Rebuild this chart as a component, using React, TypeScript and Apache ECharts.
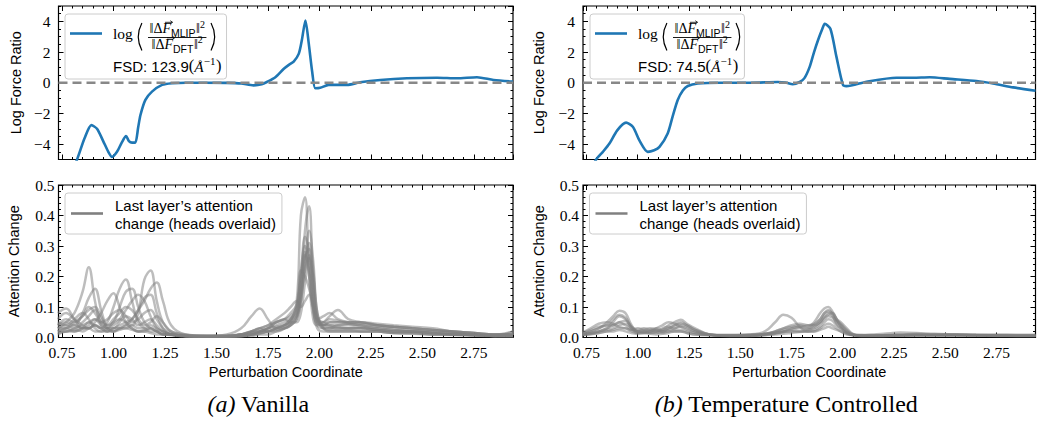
import React, { useEffect, useRef } from "react";
import * as echarts from "echarts";

// ---------------- data ----------------
const X_MIN = 0.733;
const X_MAX = 2.94;
const X_MAJOR = 0.25;
const X_MINOR = 0.05;
const X_NAME = "Perturbation Coordinate";
const Y_TOP_NAME = "Log Force Ratio";
const Y_BOTTOM_NAME = "Attention Change";
const ZERO_LEVEL = 0;

const VANILLA_X = [0.78, 0.823, 0.86, 0.893, 0.92, 0.95, 0.975, 0.993, 1.017, 1.04, 1.061, 1.075, 1.09, 1.106, 1.12, 1.131, 1.155, 1.187, 1.236, 1.285, 1.35, 1.45, 1.55, 1.62, 1.68, 1.72, 1.745, 1.786, 1.826, 1.85, 1.875, 1.9, 1.915, 1.932, 1.948, 1.965, 1.98, 2.004, 2.045, 2.134, 2.198, 2.296, 2.425, 2.571, 2.668, 2.765, 2.846, 2.94];
const VANILLA_LOG_RATIO = [-6.3, -5.0, -3.6, -2.76, -3.0, -3.8, -4.5, -4.83, -4.5, -3.9, -3.48, -3.8, -3.9, -3.9, -2.9, -2.1, -1.12, -0.58, -0.14, -0.03, 0.0, 0.0, -0.01, -0.05, -0.17, -0.1, 0.05, 0.36, 0.9, 1.15, 1.38, 1.9, 2.8, 4.06, 2.58, 0.7, -0.36, -0.33, -0.14, -0.14, 0.03, 0.18, 0.29, 0.33, 0.29, 0.36, 0.18, 0.08];

const TEMP_X = [0.76, 0.797, 0.83, 0.862, 0.9, 0.943, 0.976, 1.01, 1.049, 1.08, 1.106, 1.146, 1.17, 1.195, 1.22, 1.244, 1.293, 1.4, 1.55, 1.683, 1.72, 1.756, 1.79, 1.813, 1.839, 1.86, 1.88, 1.9, 1.912, 1.94, 1.969, 2.001, 2.018, 2.116, 2.262, 2.343, 2.424, 2.522, 2.652, 2.733, 2.831, 2.94];
const TEMP_LOG_RATIO = [-6.0, -5.0, -4.5, -3.96, -3.1, -2.6, -2.87, -3.8, -4.5, -4.4, -4.18, -3.3, -2.2, -1.12, -0.5, -0.21, -0.05, 0.0, 0.0, 0.05, 0.02, -0.1, 0.05, 0.3, 1.05, 2.0, 2.8, 3.5, 3.84, 3.5, 1.7, -0.14, -0.22, 0.07, 0.33, 0.33, 0.36, 0.25, 0.11, -0.05, -0.3, -0.52];

const VANILLA_FSD = "123.9";
const TEMP_FSD = "74.5";

const HEAD_X = [0.73, 0.77, 0.81, 0.85, 0.88, 0.91, 0.94, 0.97, 1.0, 1.03, 1.06, 1.09, 1.12, 1.15, 1.18, 1.21, 1.24, 1.28, 1.35, 1.45, 1.55, 1.62, 1.67, 1.71, 1.75, 1.79, 1.83, 1.86, 1.89, 1.91, 1.93, 1.95, 1.97, 1.99, 2.02, 2.05, 2.09, 2.14, 2.2, 2.28, 2.36, 2.45, 2.55, 2.65, 2.75, 2.85, 2.94];

const VANILLA_HEADS = [
  [0.03, 0.05, 0.08, 0.15, 0.23, 0.12, 0.04, 0.03, 0.05, 0.06, 0.05, 0.04, 0.08, 0.19, 0.22, 0.12, 0.05, 0.02, 0.01, 0.005, 0.005, 0.01, 0.02, 0.03, 0.02, 0.02, 0.03, 0.05, 0.12, 0.4, 0.46, 0.2, 0.06, 0.04, 0.05, 0.07, 0.09, 0.06, 0.05, 0.04, 0.035, 0.03, 0.025, 0.02, 0.015, 0.01, 0.02],
  [0.02, 0.03, 0.02, 0.03, 0.05, 0.04, 0.03, 0.05, 0.1, 0.16, 0.19, 0.12, 0.05, 0.03, 0.02, 0.02, 0.01, 0.01, 0.005, 0.005, 0.01, 0.03, 0.07, 0.095, 0.06, 0.03, 0.03, 0.04, 0.06, 0.15, 0.35, 0.43, 0.18, 0.05, 0.04, 0.05, 0.05, 0.05, 0.05, 0.045, 0.04, 0.035, 0.03, 0.02, 0.015, 0.01, 0.01],
  [0.04, 0.05, 0.04, 0.08, 0.13, 0.16, 0.09, 0.03, 0.02, 0.03, 0.04, 0.06, 0.09, 0.12, 0.16, 0.18, 0.12, 0.04, 0.01, 0.005, 0.005, 0.01, 0.02, 0.02, 0.02, 0.03, 0.04, 0.05, 0.07, 0.12, 0.25, 0.35, 0.25, 0.08, 0.04, 0.04, 0.04, 0.045, 0.04, 0.035, 0.03, 0.025, 0.02, 0.015, 0.01, 0.008, 0.01],
  [0.08, 0.095, 0.06, 0.03, 0.03, 0.05, 0.08, 0.12, 0.145, 0.1, 0.05, 0.03, 0.02, 0.02, 0.015, 0.01, 0.01, 0.008, 0.005, 0.005, 0.005, 0.01, 0.02, 0.03, 0.04, 0.05, 0.06, 0.08, 0.11, 0.22, 0.3, 0.25, 0.1, 0.04, 0.03, 0.03, 0.03, 0.03, 0.03, 0.025, 0.02, 0.02, 0.015, 0.01, 0.01, 0.008, 0.01],
  [0.02, 0.03, 0.05, 0.07, 0.09, 0.1, 0.07, 0.04, 0.05, 0.1, 0.15, 0.16, 0.1, 0.05, 0.03, 0.02, 0.01, 0.01, 0.005, 0.005, 0.005, 0.01, 0.015, 0.02, 0.03, 0.04, 0.05, 0.06, 0.08, 0.14, 0.26, 0.29, 0.15, 0.06, 0.05, 0.04, 0.035, 0.03, 0.03, 0.025, 0.02, 0.02, 0.015, 0.01, 0.008, 0.005, 0.005],
  [0.05, 0.04, 0.06, 0.08, 0.06, 0.03, 0.02, 0.03, 0.04, 0.06, 0.09, 0.12, 0.14, 0.12, 0.07, 0.03, 0.02, 0.01, 0.005, 0.005, 0.005, 0.01, 0.01, 0.02, 0.03, 0.05, 0.06, 0.07, 0.1, 0.2, 0.27, 0.22, 0.09, 0.03, 0.02, 0.02, 0.02, 0.02, 0.02, 0.02, 0.015, 0.015, 0.01, 0.01, 0.008, 0.005, 0.005],
  [0.06, 0.08, 0.06, 0.04, 0.03, 0.04, 0.03, 0.02, 0.03, 0.04, 0.05, 0.06, 0.09, 0.13, 0.14, 0.08, 0.03, 0.01, 0.005, 0.005, 0.005, 0.01, 0.02, 0.03, 0.04, 0.06, 0.08, 0.1, 0.12, 0.1, 0.12, 0.14, 0.1, 0.06, 0.07, 0.08, 0.06, 0.05, 0.045, 0.04, 0.035, 0.03, 0.025, 0.02, 0.015, 0.01, 0.01],
  [0.03, 0.04, 0.03, 0.05, 0.07, 0.09, 0.06, 0.03, 0.03, 0.05, 0.07, 0.06, 0.04, 0.05, 0.06, 0.04, 0.02, 0.01, 0.005, 0.003, 0.003, 0.005, 0.01, 0.015, 0.02, 0.03, 0.04, 0.06, 0.09, 0.2, 0.33, 0.28, 0.12, 0.05, 0.04, 0.05, 0.05, 0.045, 0.04, 0.03, 0.025, 0.02, 0.02, 0.015, 0.01, 0.008, 0.008],
  [0.02, 0.02, 0.03, 0.04, 0.05, 0.06, 0.05, 0.06, 0.08, 0.09, 0.07, 0.05, 0.06, 0.08, 0.09, 0.06, 0.03, 0.015, 0.005, 0.003, 0.003, 0.005, 0.01, 0.02, 0.03, 0.05, 0.06, 0.05, 0.05, 0.08, 0.18, 0.26, 0.2, 0.07, 0.03, 0.03, 0.04, 0.04, 0.035, 0.03, 0.025, 0.02, 0.015, 0.01, 0.008, 0.005, 0.005],
  [0.01, 0.02, 0.02, 0.03, 0.03, 0.02, 0.02, 0.02, 0.03, 0.03, 0.04, 0.03, 0.02, 0.02, 0.03, 0.02, 0.01, 0.01, 0.005, 0.003, 0.003, 0.005, 0.005, 0.01, 0.01, 0.02, 0.03, 0.04, 0.06, 0.12, 0.24, 0.31, 0.22, 0.08, 0.03, 0.02, 0.02, 0.02, 0.02, 0.02, 0.015, 0.015, 0.01, 0.01, 0.008, 0.005, 0.005],
  [0.04, 0.06, 0.05, 0.07, 0.1, 0.08, 0.05, 0.04, 0.06, 0.08, 0.1, 0.09, 0.06, 0.04, 0.05, 0.07, 0.05, 0.02, 0.008, 0.005, 0.005, 0.008, 0.015, 0.02, 0.03, 0.035, 0.04, 0.05, 0.08, 0.17, 0.28, 0.2, 0.09, 0.05, 0.05, 0.06, 0.055, 0.05, 0.05, 0.04, 0.035, 0.03, 0.025, 0.02, 0.015, 0.01, 0.01],
  [0.03, 0.03, 0.04, 0.03, 0.04, 0.06, 0.04, 0.03, 0.02, 0.03, 0.03, 0.04, 0.03, 0.03, 0.04, 0.03, 0.02, 0.01, 0.005, 0.003, 0.003, 0.005, 0.01, 0.015, 0.02, 0.03, 0.04, 0.06, 0.1, 0.22, 0.2, 0.16, 0.11, 0.06, 0.04, 0.035, 0.03, 0.03, 0.03, 0.025, 0.02, 0.02, 0.015, 0.01, 0.008, 0.005, 0.02],
  [0.015, 0.02, 0.025, 0.02, 0.03, 0.04, 0.03, 0.02, 0.02, 0.025, 0.03, 0.025, 0.02, 0.025, 0.03, 0.02, 0.012, 0.008, 0.004, 0.003, 0.003, 0.004, 0.008, 0.012, 0.02, 0.025, 0.03, 0.04, 0.07, 0.14, 0.22, 0.27, 0.16, 0.06, 0.03, 0.025, 0.025, 0.025, 0.02, 0.02, 0.015, 0.012, 0.01, 0.008, 0.006, 0.005, 0.005],
];

const TEMP_HEADS = [
  [0.01, 0.02, 0.03, 0.05, 0.07, 0.088, 0.08, 0.04, 0.02, 0.02, 0.015, 0.015, 0.02, 0.02, 0.02, 0.02, 0.015, 0.01, 0.008, 0.008, 0.01, 0.02, 0.05, 0.075, 0.065, 0.035, 0.02, 0.02, 0.03, 0.04, 0.045, 0.04, 0.03, 0.02, 0.01, 0.008, 0.006, 0.006, 0.006, 0.007, 0.008, 0.008, 0.008, 0.007, 0.006, 0.006, 0.006],
  [0.01, 0.015, 0.02, 0.03, 0.04, 0.05, 0.04, 0.025, 0.02, 0.02, 0.02, 0.02, 0.025, 0.04, 0.05, 0.058, 0.045, 0.03, 0.01, 0.006, 0.008, 0.012, 0.02, 0.03, 0.035, 0.04, 0.035, 0.05, 0.08, 0.095, 0.1, 0.085, 0.06, 0.035, 0.015, 0.008, 0.006, 0.006, 0.007, 0.008, 0.01, 0.01, 0.01, 0.008, 0.007, 0.006, 0.006],
  [0.015, 0.03, 0.045, 0.05, 0.045, 0.035, 0.03, 0.025, 0.03, 0.025, 0.02, 0.03, 0.04, 0.05, 0.045, 0.035, 0.025, 0.015, 0.008, 0.006, 0.007, 0.01, 0.02, 0.03, 0.04, 0.045, 0.04, 0.04, 0.05, 0.065, 0.075, 0.08, 0.06, 0.05, 0.03, 0.012, 0.008, 0.007, 0.008, 0.01, 0.012, 0.01, 0.01, 0.008, 0.007, 0.006, 0.006],
  [0.008, 0.012, 0.02, 0.03, 0.05, 0.07, 0.06, 0.03, 0.015, 0.015, 0.02, 0.025, 0.02, 0.025, 0.03, 0.035, 0.03, 0.02, 0.008, 0.005, 0.006, 0.01, 0.015, 0.02, 0.03, 0.035, 0.03, 0.04, 0.06, 0.08, 0.09, 0.075, 0.05, 0.04, 0.02, 0.008, 0.005, 0.005, 0.005, 0.006, 0.007, 0.007, 0.008, 0.008, 0.007, 0.006, 0.006],
  [0.012, 0.02, 0.03, 0.04, 0.04, 0.05, 0.055, 0.035, 0.025, 0.03, 0.025, 0.02, 0.03, 0.035, 0.03, 0.04, 0.035, 0.02, 0.01, 0.006, 0.006, 0.01, 0.015, 0.02, 0.025, 0.03, 0.028, 0.03, 0.045, 0.06, 0.07, 0.065, 0.055, 0.045, 0.025, 0.01, 0.006, 0.006, 0.006, 0.006, 0.008, 0.008, 0.008, 0.007, 0.006, 0.006, 0.006],
  [0.01, 0.015, 0.02, 0.025, 0.03, 0.04, 0.045, 0.03, 0.02, 0.018, 0.025, 0.03, 0.025, 0.03, 0.04, 0.045, 0.04, 0.025, 0.01, 0.006, 0.006, 0.008, 0.012, 0.018, 0.022, 0.02, 0.025, 0.035, 0.05, 0.07, 0.08, 0.07, 0.045, 0.03, 0.015, 0.008, 0.006, 0.006, 0.006, 0.007, 0.007, 0.007, 0.007, 0.006, 0.006, 0.005, 0.005],
  [0.008, 0.01, 0.015, 0.02, 0.025, 0.03, 0.03, 0.02, 0.015, 0.015, 0.015, 0.018, 0.015, 0.02, 0.025, 0.025, 0.02, 0.015, 0.008, 0.005, 0.005, 0.007, 0.01, 0.012, 0.015, 0.018, 0.02, 0.025, 0.035, 0.05, 0.06, 0.055, 0.04, 0.03, 0.015, 0.007, 0.005, 0.005, 0.005, 0.006, 0.006, 0.006, 0.006, 0.006, 0.005, 0.005, 0.005],
  [0.015, 0.025, 0.035, 0.04, 0.06, 0.075, 0.065, 0.035, 0.02, 0.025, 0.03, 0.025, 0.02, 0.03, 0.04, 0.05, 0.04, 0.025, 0.01, 0.006, 0.007, 0.012, 0.018, 0.025, 0.03, 0.035, 0.04, 0.045, 0.06, 0.08, 0.085, 0.08, 0.06, 0.04, 0.02, 0.01, 0.006, 0.006, 0.007, 0.008, 0.009, 0.008, 0.008, 0.007, 0.006, 0.006, 0.006],
  [0.01, 0.012, 0.015, 0.02, 0.02, 0.025, 0.02, 0.015, 0.012, 0.015, 0.012, 0.01, 0.012, 0.015, 0.02, 0.02, 0.015, 0.01, 0.008, 0.008, 0.01, 0.012, 0.015, 0.018, 0.02, 0.02, 0.02, 0.02, 0.025, 0.03, 0.035, 0.03, 0.025, 0.02, 0.012, 0.008, 0.008, 0.01, 0.012, 0.016, 0.015, 0.012, 0.01, 0.01, 0.01, 0.009, 0.009],
];

const ATTN_LEGEND = ["Last layer\u2019s attention", "change (heads overlaid)"];
const CAPTIONS: [string, string][] = [["(a)", " Vanilla"], ["(b)", " Temperature Controlled"]];

// ---------------- style ----------------
const SERIF = "Liberation Serif, DejaVu Serif, serif";
const SANS = "Liberation Sans, Arial, sans-serif";
const BLUE = "#1f77b4";
const GRAY = "#808080";

const GRIDS = [
  { left: 58.5, top: 6, width: 454.5, height: 153.5 },
  { left: 58.5, top: 185, width: 454.5, height: 152.5 },
  { left: 583, top: 6, width: 452.5, height: 153.5 },
  { left: 583, top: 185, width: 452.5, height: 152.5 },
];

// ---------------- text helpers ----------------
let measureCtx: CanvasRenderingContext2D | null = null;
function textWidth(text: string, font: string) {
  if (!measureCtx) measureCtx = document.createElement("canvas").getContext("2d");
  measureCtx!.font = font;
  return measureCtx!.measureText(text).width;
}
type Piece = { t: string; size: number; fam: string; italic?: boolean; dy?: number; dx?: number; arrow?: boolean };
const fontOf = (p: Piece) => `${p.italic ? "italic " : ""}${p.size}px ${p.fam}`;
function rowWidth(ps: Piece[]) {
  return ps.reduce((s, p) => s + (p.dx || 0) + textWidth(p.t, fontOf(p)), 0);
}
function textEl(t: string, x: number, y: number, font: string, fill = "#000", align = "left") {
  return {
    type: "text",
    x,
    y,
    z: 100,
    silent: true,
    style: { text: t, font, fill, align, verticalAlign: "middle", textAlign: align, textVerticalAlign: "middle" },
  };
}
function placeRow(ps: Piece[], x: number, baseline: number, els: any[]) {
  let cx = x;
  for (const p of ps) {
    cx += p.dx || 0;
    const w = textWidth(p.t, fontOf(p));
    els.push(textEl(p.t, cx, baseline - 0.345 * p.size + (p.dy || 0), fontOf(p)));
    if (p.arrow) {
      const ay = baseline - 0.8 * p.size;
      const ax1 = cx + 2.5;
      const ax2 = cx + w + 1.5;
      els.push({ type: "line", z: 100, silent: true, shape: { x1: ax1, y1: ay, x2: ax2, y2: ay }, style: { stroke: "#000", lineWidth: 0.8 } });
      els.push({ type: "polyline", z: 100, silent: true, shape: { points: [[ax2 - 2.2, ay - 1.6], [ax2, ay], [ax2 - 2.2, ay + 1.6]] }, style: { stroke: "#000", lineWidth: 0.8, fill: "none" } });
    }
    cx += w;
  }
  return cx;
}

function paren(xEdge: number, top: number, bottom: number, left: boolean) {
  const half = (bottom - top) / 2;
  const sag = 3.4;
  const r = (half * half + sag * sag) / (2 * sag);
  const th = Math.asin(half / r);
  const cy = (top + bottom) / 2;
  return {
    type: "arc",
    z: 100,
    silent: true,
    shape: left
      ? { cx: xEdge + r, cy, r, startAngle: Math.PI - th, endAngle: Math.PI + th, clockwise: true }
      : { cx: xEdge - r, cy, r, startAngle: -th, endAngle: th, clockwise: true },
    style: { stroke: "#000", lineWidth: 1.2, fill: "none" },
  };
}

function forceLegend(bx: number, by: number, fsd: string) {
  const els: any[] = [];
  els.push({ type: "line", z: 100, silent: true, shape: { x1: bx + 5, y1: by + 19.5, x2: bx + 37, y2: by + 19.5 }, style: { stroke: BLUE, lineWidth: 2.6 } });
  placeRow([{ t: "log", size: 15.5, fam: SERIF }], bx + 48, by + 24.5, els);
  els.push(paren(bx + 73.5, by + 9, by + 36.5, true));
  const frac = (sub: string): Piece[] => [
    { t: "\u2016", size: 14, fam: SERIF },
    { t: "\u0394", size: 14, fam: SERIF },
    { t: "F", size: 14, fam: SERIF, italic: true, arrow: true },
    { t: sub, size: 10.5, fam: SANS, dy: 3.5 },
    { t: "\u2016", size: 14, fam: SERIF, dx: 0.5 },
    { t: "2", size: 10, fam: SERIF, dy: -6 },
  ];
  const num = frac("MLIP");
  const den = frac("DFT");
  const wN = rowWidth(num);
  const wD = rowWidth(den);
  const W = Math.max(wN, wD) + 3;
  const fx = bx + 83;
  placeRow(num, fx + (W - wN) / 2, by + 19.5, els);
  placeRow(den, fx + (W - wD) / 2, by + 35, els);
  els.push({ type: "line", z: 100, silent: true, shape: { x1: fx, y1: by + 23.5, x2: fx + W, y2: by + 23.5 }, style: { stroke: "#000", lineWidth: 0.9 } });
  const prx = fx + W + 8;
  els.push(paren(prx, by + 9, by + 36.5, false));
  const end = placeRow(
    [
      { t: `FSD: ${fsd}`, size: 15, fam: SANS },
      { t: "(", size: 16.5, fam: SERIF },
      { t: "\u00C5", size: 15.5, fam: SERIF, italic: true },
      { t: "\u22121", size: 11, fam: SERIF, dy: -6.5 },
      { t: ")", size: 16.5, fam: SERIF, dx: 0.5 },
    ],
    bx + 48,
    by + 57.5,
    els
  );
  const boxW = Math.max(end, prx) + 5 - bx;
  els.unshift({ type: "rect", z: 99, silent: true, shape: { x: bx, y: by, width: boxW, height: 65, r: 3 }, style: { fill: "rgba(255,255,255,0.85)", stroke: "#cccccc", lineWidth: 1 } });
  return els;
}

function attnLegend(bx: number, by: number) {
  const els: any[] = [];
  const font = 15;
  const p1: Piece[] = [{ t: ATTN_LEGEND[0], size: font, fam: SANS }];
  const p2: Piece[] = [{ t: ATTN_LEGEND[1], size: font, fam: SANS }];
  const w = Math.max(rowWidth(p1), rowWidth(p2));
  els.push({ type: "rect", z: 99, silent: true, shape: { x: bx, y: by, width: 50 + w + 6, height: 41, r: 3 }, style: { fill: "rgba(255,255,255,0.85)", stroke: "#cccccc", lineWidth: 1 } });
  els.push({ type: "line", z: 100, silent: true, shape: { x1: bx + 6, y1: by + 20.5, x2: bx + 38, y2: by + 20.5 }, style: { stroke: GRAY, lineWidth: 2.6 } });
  placeRow(p1, bx + 50, by + 17.5, els);
  placeRow(p2, bx + 50, by + 35.5, els);
  return els;
}

function caption(cxCenter: number, baseline: number, parts: [string, string]) {
  const els: any[] = [];
  const ps: Piece[] = [
    { t: parts[0], size: 24, fam: SERIF, italic: true },
    { t: parts[1], size: 24, fam: SERIF },
  ];
  const w = rowWidth(ps);
  placeRow(ps, cxCenter - w / 2, baseline, els);
  return els;
}

// ---------------- axes ----------------
const tick = (len: number) => ({ show: true, inside: true, length: len, lineStyle: { color: "#000", width: 1 } });
const noLine = { show: false, onZero: false };

function xAxes(grid: number, withLabels: boolean) {
  const common = { type: "value", gridIndex: grid, min: X_MIN, max: X_MAX, splitLine: { show: false }, axisLine: noLine };
  const major = (position: string, labels: boolean) => ({
    ...common,
    position,
    minInterval: X_MAJOR,
    maxInterval: X_MAJOR,
    axisTick: tick(5),
    axisLabel: {
      show: labels,
      showMinLabel: false,
      showMaxLabel: false,
      margin: 6.5,
      color: "#000",
      fontFamily: SERIF,
      fontSize: 15.5,
      formatter: (v: number) => v.toFixed(2),
    },
    name: labels ? X_NAME : "",
    nameLocation: "middle",
    nameGap: 27,
    nameTextStyle: { color: "#000", fontFamily: SANS, fontSize: 14.5 },
  });
  const minor = (position: string) => ({ ...common, position, minInterval: X_MINOR, maxInterval: X_MINOR, axisTick: tick(2.5), axisLabel: { show: false } });
  return [major("bottom", withLabels), minor("bottom"), major("top", false), minor("top")];
}

function yAxes(grid: number, min: number, max: number, majorI: number, minorI: number, name: string, nameGap: number, fmt: (v: number) => string, margin: number, showEnds: boolean) {
  const common = { type: "value", gridIndex: grid, min, max, splitLine: { show: false }, axisLine: noLine };
  const major = (position: string, labels: boolean) => ({
    ...common,
    position,
    minInterval: majorI,
    maxInterval: majorI,
    axisTick: tick(5),
    axisLabel: { show: labels, showMinLabel: showEnds, showMaxLabel: showEnds, margin, color: "#000", fontFamily: SERIF, fontSize: 15.5, formatter: fmt },
    name: labels ? name : "",
    nameLocation: "middle",
    nameGap,
    nameTextStyle: { color: "#000", fontFamily: SANS, fontSize: 14.5 },
  });
  const minor = (position: string) => ({ ...common, position, minInterval: minorI, maxInterval: minorI, axisTick: tick(2.5), axisLabel: { show: false } });
  return [major("left", true), minor("left"), major("right", false), minor("right")];
}

const fmtTop = (v: number) => String(v).replace("-", "\u2212");
const fmtBottom = (v: number) => v.toFixed(1);

function blueSeries(g: number, xs: number[], ys: number[]) {
  return {
    type: "line",
    xAxisIndex: 4 * g,
    yAxisIndex: 4 * g,
    data: xs.map((x, i) => [x, ys[i]]),
    showSymbol: false,
    symbol: "none",
    smooth: 0.25,
    clip: true,
    lineStyle: { color: BLUE, width: 2.6 },
    z: 3,
  };
}

function zeroSeries(g: number) {
  return {
    type: "line",
    xAxisIndex: 4 * g,
    yAxisIndex: 4 * g,
    data: [
      [X_MIN, ZERO_LEVEL],
      [X_MAX, ZERO_LEVEL],
    ],
    showSymbol: false,
    symbol: "none",
    silent: true,
    lineStyle: { color: "#888888", width: 2.5, type: [9, 5] },
    z: 4,
  };
}

function headSeries(g: number, heads: number[][]) {
  return heads.map((h) => ({
    type: "line",
    xAxisIndex: 4 * g,
    yAxisIndex: 4 * g,
    data: HEAD_X.map((x, i) => [x, h[i]]),
    showSymbol: false,
    symbol: "none",
    smooth: 0.4,
    clip: true,
    lineStyle: { color: GRAY, width: 2.5, opacity: 0.52 },
    z: 2,
  }));
}

function buildOption() {
  return {
    animation: false,
    backgroundColor: "#ffffff",
    grid: GRIDS.map((g) => ({ ...g, show: true, borderColor: "#000", borderWidth: 1.2, backgroundColor: "transparent" })),
    xAxis: [...xAxes(0, false), ...xAxes(1, true), ...xAxes(2, false), ...xAxes(3, true)],
    yAxis: [
      ...yAxes(0, -5, 5, 2, 0.5, Y_TOP_NAME, 35, fmtTop, 8, false),
      ...yAxes(1, 0, 0.5, 0.1, 0.02, Y_BOTTOM_NAME, 37, fmtBottom, 4, true),
      ...yAxes(2, -5, 5, 2, 0.5, Y_TOP_NAME, 36.5, fmtTop, 8, false),
      ...yAxes(3, 0, 0.5, 0.1, 0.02, Y_BOTTOM_NAME, 36.5, fmtBottom, 4, true),
    ],
    series: [
      ...headSeries(1, VANILLA_HEADS),
      ...headSeries(3, TEMP_HEADS),
      blueSeries(0, VANILLA_X, VANILLA_LOG_RATIO),
      blueSeries(2, TEMP_X, TEMP_LOG_RATIO),
      zeroSeries(0),
      zeroSeries(2),
    ],
    graphic: {
      elements: [
        ...forceLegend(65, 14, VANILLA_FSD),
        ...forceLegend(590, 14, TEMP_FSD),
        ...attnLegend(65, 193),
        ...attnLegend(589.5, 193),
        ...caption(258.5, 412.5, CAPTIONS[0]),
        ...caption(786.5, 412.5, CAPTIONS[1]),
      ],
    },
  };
}

export default function App() {
  const ref = useRef<HTMLDivElement>(null);
  useEffect(() => {
    const chart = echarts.init(ref.current!, null, { renderer: "svg" });
    chart.setOption(buildOption() as any);
    return () => chart.dispose();
  }, []);
  return (
    <div
      ref={ref}
      style={{ position: "fixed", left: 0, top: 0, width: 1041, height: 425, background: "#fff" }}
    />
  );
}
